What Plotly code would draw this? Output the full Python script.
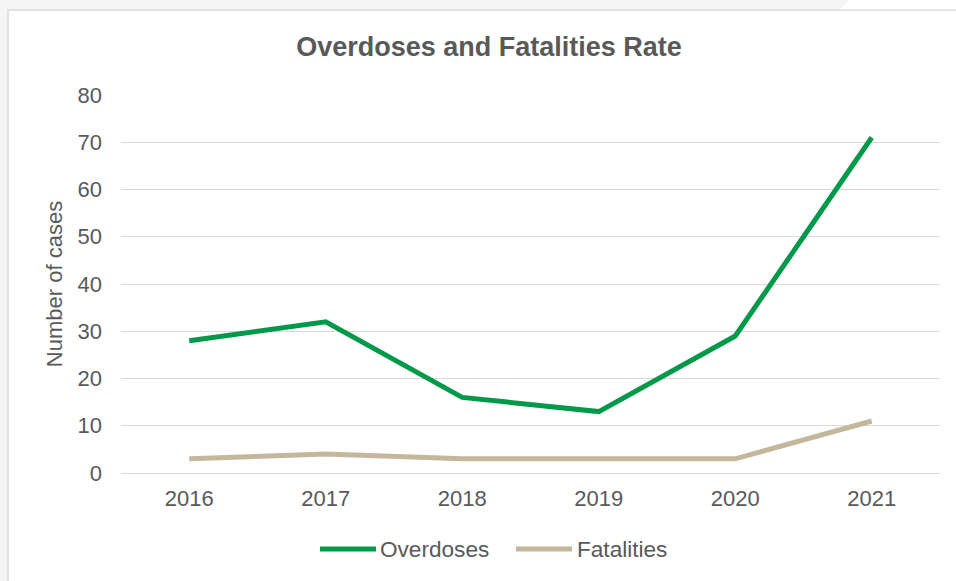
import plotly.graph_objects as go

years = ["2016", "2017", "2018", "2019", "2020", "2021"]
overdoses = [28, 32, 16, 13, 29, 71]
fatalities = [3, 4, 3, 3, 3, 11]
y_ticks = [0, 10, 20, 30, 40, 50, 60, 70, 80]
series_names = ["Overdoses", "Fatalities"]
series_colors = ["#00994A", "#C4B79C"]

W, H = 956, 581
ML, MR, MT, MB = 121, 16, 95, 108
PW = W - ML - MR
PH = H - MT - MB


def px(x):
    return (x - ML) / PW


def py(y):
    return (H - MB - y) / PH


FONT = "Liberation Sans, Arial, sans-serif"
TXT = "#595959"

fig = go.Figure()
for name, vals, col in zip(series_names, [overdoses, fatalities], series_colors):
    fig.add_trace(go.Scatter(x=years, y=vals, name=name, mode="lines",
                             line=dict(color=col, width=5), showlegend=False))

shapes = [
    dict(type="rect", xref="paper", yref="paper", x0=px(8), x1=px(1000), y0=py(10), y1=py(650),
         fillcolor="white", line=dict(color="#d9d9d9", width=1.5), layer="below"),
    dict(type="path", xref="paper", yref="paper",
         path=f"M {px(852)},{py(-2)} L {px(1000)},{py(-2)} L {px(1000)},{py(9.3)} L {px(840)},{py(9.3)} Z",
         fillcolor="white", line=dict(width=0), layer="below"),
]

# custom legend (line samples + labels)
legend_items = [(320, 376, 378), (516, 572, 575)]
annotations = []
for (x0, x1, tx), name, col in zip(legend_items, series_names, series_colors):
    shapes.append(dict(type="line", xref="paper", yref="paper", x0=px(x0), x1=px(x1),
                       y0=py(549), y1=py(549), line=dict(color=col, width=5)))
    annotations.append(dict(text=name, xref="paper", yref="paper", x=px(tx), y=py(549),
                            xanchor="left", yanchor="middle", showarrow=False,
                            font=dict(size=22.6, color=TXT, family=FONT)))

fig.update_layout(
    width=W, height=H,
    margin=dict(l=ML, r=MR, t=MT, b=MB),
    paper_bgcolor="#f5f5f5",
    plot_bgcolor="rgba(0,0,0,0)",
    shapes=shapes,
    annotations=annotations,
    showlegend=False,
    font=dict(family=FONT, color=TXT, size=22),
    title=dict(text="<b>Overdoses and Fatalities Rate</b>", x=489 / W, xanchor="center",
               y=1 - 47 / H, yanchor="middle", font=dict(size=27, color=TXT, family=FONT)),
    xaxis=dict(type="category", range=[-0.5, 5.5], showgrid=False, showline=False,
               zeroline=False, ticks="", ticklabelstandoff=10,
               tickfont=dict(size=22, color=TXT)),
    yaxis=dict(range=[0, 80], tickvals=y_ticks, showgrid=True, gridcolor="#d9d9d9",
               gridwidth=1, zeroline=True, zerolinecolor="#d9d9d9", zerolinewidth=1,
               showline=False, ticks="", ticklabelstandoff=18,
               tickfont=dict(size=22, color=TXT),
               title=dict(text="Number of cases", standoff=8, font=dict(size=22, color=TXT))),
)

fig.write_html("out.html",
               config={"displayModeBar": False},
               post_script="document.body.style.margin='0';document.body.style.padding='0';"
                           "document.documentElement.style.overflow='hidden';")
